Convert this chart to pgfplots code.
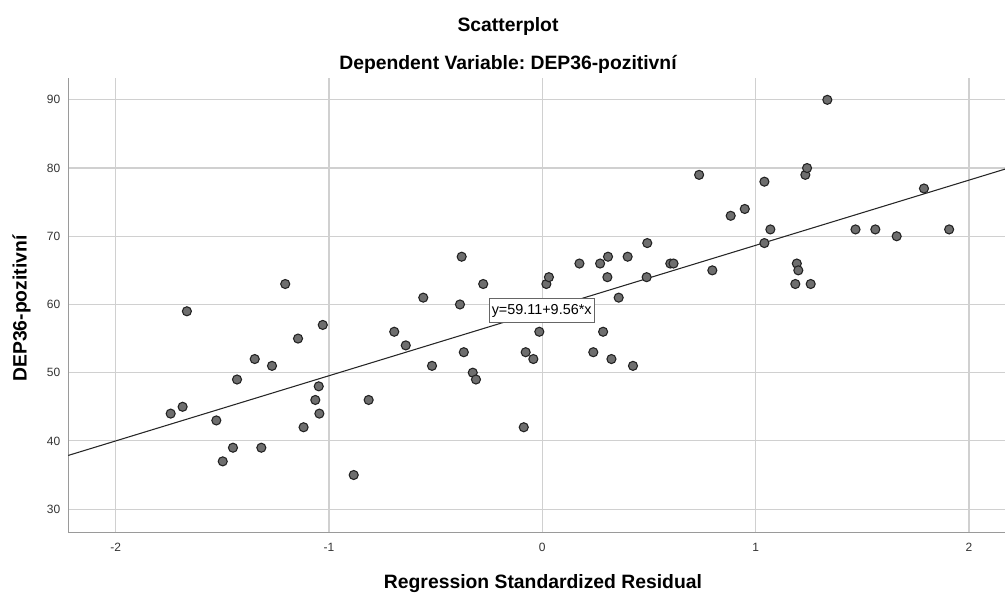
\documentclass[border=0pt]{standalone}
\usepackage{fontspec}
\setmainfont{Liberation Sans}
\usepackage{pgfplots}
\pgfplotsset{compat=1.18}

\definecolor{gridgray}{HTML}{D0D0D0}
\definecolor{axgray}{HTML}{9A9A9A}
\definecolor{dotfill}{HTML}{6E6E6E}
\definecolor{dotedge}{HTML}{222222}

\begin{document}
\frenchspacing
\begin{tikzpicture}
\begin{axis}[
  scale only axis,
  width=711pt, height=340.7pt,
  xmin=-2.222, xmax=2.222,
  ymin=26.6, ymax=93.2,
  axis lines=left,
  axis line style={-, axgray, line width=1.1pt},
  xtick={-2,-1,0,1,2},
  ytick={30,40,50,60,70,80,90},
  major tick length=0pt,
  grid=major,
  major grid style={gridgray, line width=0.9pt},
  /pgf/number format/assume math mode=true,
  ticklabel style={font=\fontsize{9}{10}\selectfont, text=black!80},
  yticklabel style={xshift=-2.5pt},
  xticklabel style={yshift=-4.6pt},
  xlabel={Regression Standardized Residual},
  ylabel={DEP36-pozitivní},
  every axis x label/.style={at={([yshift=-42.1pt]axis description cs:0.5007,0)},
    anchor=base, font=\bfseries\fontsize{14.5}{16}\selectfont},
  every axis y label/.style={at={([xshift=-31.2pt]axis description cs:0,0.4926)},
    anchor=base, rotate=90, font=\bfseries\fontsize{14.5}{16}\selectfont},
  clip=false,
]
\addplot[black!85, line width=0.8pt] coordinates {(-2.222,37.87) (2.222,80.35)};
\addplot[only marks, mark=*, mark size=3.4pt,
  mark options={fill=dotfill, draw=dotedge, line width=0.8pt}] coordinates {
  (-1.742,44) (-1.686,45) (-1.666,59) (-1.528,43) (-1.498,37) (-1.450,39)
  (-1.431,49) (-1.348,52) (-1.317,39) (-1.267,51) (-1.205,63) (-1.145,55)
  (-1.119,42) (-1.064,46) (-1.048,48) (-1.045,44) (-1.029,57)
  (-0.884,35) (-0.814,46) (-0.694,56) (-0.640,54) (-0.558,61) (-0.517,51)
  (-0.386,60) (-0.378,67) (-0.368,53) (-0.326,50) (-0.311,49) (-0.277,63)
  (-0.087,42) (-0.078,53) (-0.042,52) (-0.014,56) (0.019,63) (0.031,64)
  (0.174,66) (0.239,53) (0.271,66) (0.285,56) (0.305,64) (0.308,67)
  (0.324,52) (0.358,61) (0.400,67) (0.425,51) (0.489,64) (0.492,69)
  (0.600,66) (0.615,66)
  (0.735,79) (0.797,65) (0.883,73) (0.949,74) (1.041,78) (1.041,69)
  (1.069,71) (1.186,63) (1.193,66) (1.200,65) (1.233,79) (1.241,80)
  (1.258,63) (1.336,90) (1.468,71) (1.561,71) (1.661,70) (1.789,77)
  (1.907,71)
};
\node[draw=black!60, fill=white, line width=0.7pt, inner xsep=2pt, inner ysep=4.3pt,
  font=\fontsize{10.8}{12}\selectfont] at (axis cs:-0.003,59.11) {y=59.11+9.56*x};
\node[font=\bfseries\fontsize{14.5}{16}\selectfont, anchor=base]
  at ([yshift=34.7pt]axis description cs:0.4638,1) {Scatterplot};
\node[font=\bfseries\fontsize{14.5}{16}\selectfont, anchor=base]
  at ([yshift=6.2pt]axis description cs:0.4638,1) {Dependent Variable: DEP36-pozitivní};
\end{axis}
\pgfresetboundingbox
\path[use as bounding box] ([xshift=-51.2pt, yshift=-44.8pt]current axis.south west)
  rectangle ([xshift=702.5pt, yshift=58.5pt]current axis.north west);
\end{tikzpicture}
\end{document}
